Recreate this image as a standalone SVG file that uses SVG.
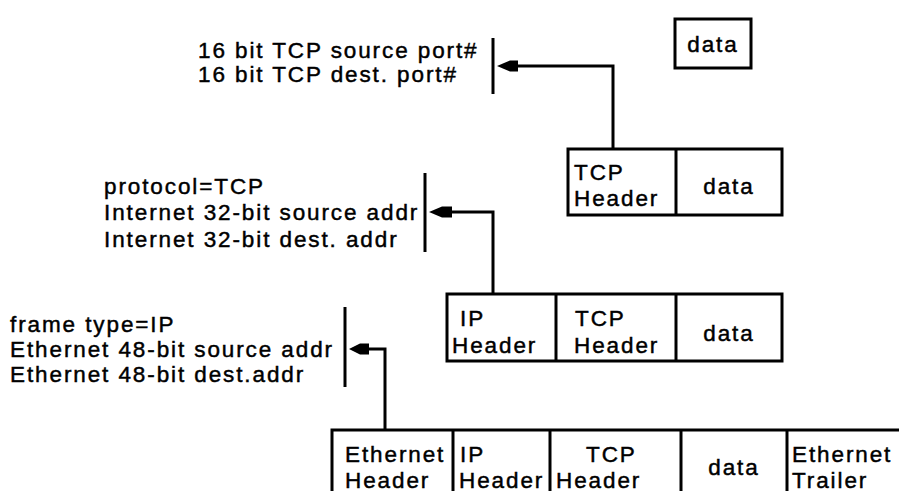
<svg xmlns="http://www.w3.org/2000/svg" width="899" height="491" viewBox="0 0 899 491">
<defs>
<style>
text{font-family:"Liberation Sans",Arial,sans-serif;font-size:22.5px;letter-spacing:1.9px;fill:#000;stroke:#000;stroke-width:0.45}
.box{fill:#fff;stroke:#000;stroke-width:3}
.ln{fill:none;stroke:#000;stroke-width:3}
.bar{stroke:#000;stroke-width:3}
.ah{fill:#000}
</style>
</defs>
<g id="tcp-fields">
<text x="198" y="58">16 bit TCP source port#</text>
<text x="198" y="82">16 bit TCP dest. port#</text>
<line class="bar" x1="493" y1="38" x2="493" y2="94"/>
</g>
<g id="ip-fields">
<text x="104" y="194">protocol=TCP</text>
<text x="104" y="220">Internet 32-bit source addr</text>
<text x="104" y="247">Internet 32-bit dest. addr</text>
<line class="bar" x1="425" y1="173" x2="425" y2="252"/>
</g>
<g id="eth-fields">
<text x="10" y="332">frame type=IP</text>
<text x="10" y="357">Ethernet 48-bit source addr</text>
<text x="10" y="382">Ethernet 48-bit dest.addr</text>
<line class="bar" x1="345" y1="307" x2="345" y2="387"/>
</g>
<g id="data-packet">
<rect class="box" x="675" y="19" width="76" height="49"/>
<text x="713" y="52" text-anchor="middle">data</text>
</g>
<g id="tcp-segment">
<rect class="box" x="568" y="149" width="214" height="66"/>
<line class="bar" x1="676" y1="149" x2="676" y2="215"/>
<text x="574" y="180">TCP</text>
<text x="574" y="206">Header</text>
<text x="729" y="194" text-anchor="middle">data</text>
</g>
<g id="ip-datagram">
<rect class="box" x="447" y="294" width="335" height="67"/>
<line class="bar" x1="556" y1="294" x2="556" y2="361"/>
<line class="bar" x1="676" y1="294" x2="676" y2="361"/>
<text x="460" y="326">IP</text>
<text x="452" y="353">Header</text>
<text x="575" y="326">TCP</text>
<text x="574" y="353">Header</text>
<text x="729" y="341" text-anchor="middle">data</text>
</g>
<g id="ethernet-frame">
<rect class="box" x="332" y="430" width="580" height="80"/>
<line class="bar" x1="453" y1="430" x2="453" y2="500"/>
<line class="bar" x1="550" y1="430" x2="550" y2="500"/>
<line class="bar" x1="681" y1="430" x2="681" y2="500"/>
<line class="bar" x1="787" y1="430" x2="787" y2="500"/>
<text x="345" y="462">Ethernet</text>
<text x="345" y="488">Header</text>
<text x="460" y="462">IP</text>
<text x="459" y="488">Header</text>
<text x="586" y="462">TCP</text>
<text x="556" y="488">Header</text>
<text x="734" y="475" text-anchor="middle">data</text>
<text x="792" y="462">Ethernet</text>
<text x="792" y="488">Trailer</text>
</g>
<g id="connectors">
<polyline class="ln" points="613,149 613,66 516,66"/>
<path class="ah" d="M497,66 L510,60.5 L518,60.5 L518,71.5 L510,71.5 Z"/>
<polyline class="ln" points="493,294 493,212 450,212"/>
<path class="ah" d="M429,212 L442,206.5 L452,206.5 L452,217.5 L442,217.5 Z"/>
<polyline class="ln" points="385,430 385,349 368,349"/>
<path class="ah" d="M349,349 L360,343.5 L369,343.5 L369,354.5 L360,354.5 Z"/>
</g>
</svg>
